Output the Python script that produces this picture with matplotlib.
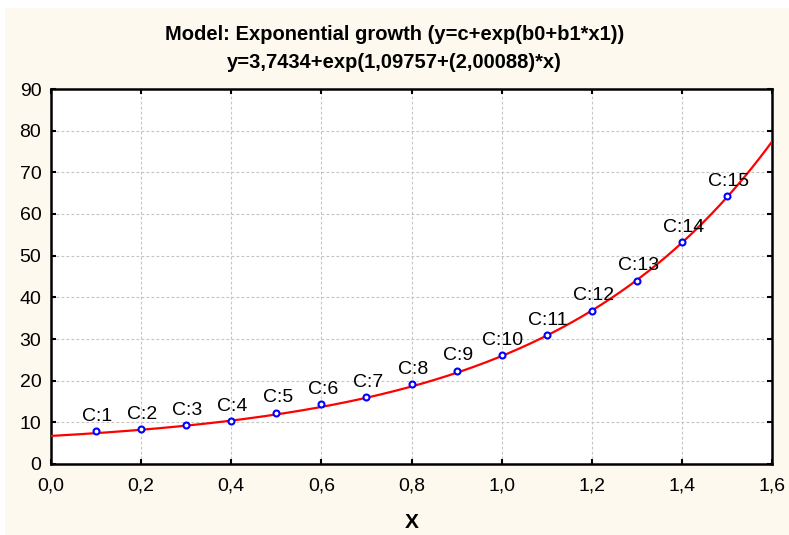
import numpy as np
import matplotlib
matplotlib.use("Agg")
import matplotlib.pyplot as plt
from matplotlib.patches import Rectangle

# Observations
x_obs = [0.1, 0.2, 0.3, 0.4, 0.5, 0.6, 0.7, 0.8, 0.9, 1.0, 1.1, 1.2, 1.3, 1.4, 1.5]
y_obs = [7.9, 8.4, 9.4, 10.3, 12.3, 14.3, 16.1, 19.1, 22.4, 26.2, 31.0, 36.8, 44.0, 53.2, 64.3]
case_labels = [f"C:{i}" for i in range(1, 16)]

# Fitted model y = c + exp(b0 + b1*x)
c_fit = 3.7434
b0_fit = 1.09757
b1_fit = 2.00088

x_ticks = [0.0, 0.2, 0.4, 0.6, 0.8, 1.0, 1.2, 1.4, 1.6]
x_tick_labels = ["0,0", "0,2", "0,4", "0,6", "0,8", "1,0", "1,2", "1,4", "1,6"]
y_ticks = [0, 10, 20, 30, 40, 50, 60, 70, 80, 90]

plt.rcParams["font.family"] = ["Liberation Sans", "DejaVu Sans"]

W, H = 789, 535
fig = plt.figure(figsize=(W / 100, H / 100), dpi=100)
fig.patch.set_facecolor("white")
fig.patches.append(Rectangle((5 / W, 0), 1 - 5 / W, 1 - 8 / H, transform=fig.transFigure,
                             facecolor="#fef9ef", edgecolor="none", zorder=-10))

ax = fig.add_axes([51 / W, (H - 464) / H, (772 - 51) / W, (464 - 89) / H])
ax.set_facecolor("white")
ax.set_xlim(0, 1.6)
ax.set_ylim(0, 90)

ax.grid(True, color="#c4c4c4", linestyle=(0, (2.5, 2)), linewidth=0.8)
ax.set_axisbelow(True)

xs = np.linspace(0, 1.6, 400)
ax.plot(xs, c_fit + np.exp(b0_fit + b1_fit * xs), color="#ff0000", linewidth=1.6, zorder=3)

ax.plot(x_obs, y_obs, linestyle="none", marker="o", markersize=4.3,
        markerfacecolor="white", markeredgecolor="#0000ff", markeredgewidth=1.5, zorder=4)

for xv, yv, lab in zip(x_obs, y_obs, case_labels):
    ax.annotate(lab, (xv, yv), xytext=(1, 4.5), textcoords="offset points",
                ha="center", va="bottom", fontsize=14, color="black", zorder=5)

ax.set_xticks(x_ticks)
ax.set_xticklabels(x_tick_labels)
ax.set_yticks(y_ticks)
ax.tick_params(direction="in", length=3.5, width=1.5, labelsize=14,
               top=True, right=True)
ax.tick_params(axis="y", pad=7)
ax.tick_params(axis="x", pad=10)
for s in ax.spines.values():
    s.set_linewidth(1.8)
    s.set_color("black")

ax.set_xlabel("X", fontsize=15, fontweight="bold", labelpad=13)

fig.text(0.5, 1 - 34 / H, "Model: Exponential growth (y=c+exp(b0+b1*x1))",
         ha="center", va="center", fontsize=14.5, fontweight="bold")
fig.text(0.5, 1 - 63 / H, "y=3,7434+exp(1,09757+(2,00088)*x)",
         ha="center", va="center", fontsize=14.5, fontweight="bold")

fig.savefig("out.png", dpi=100, facecolor=fig.get_facecolor())
